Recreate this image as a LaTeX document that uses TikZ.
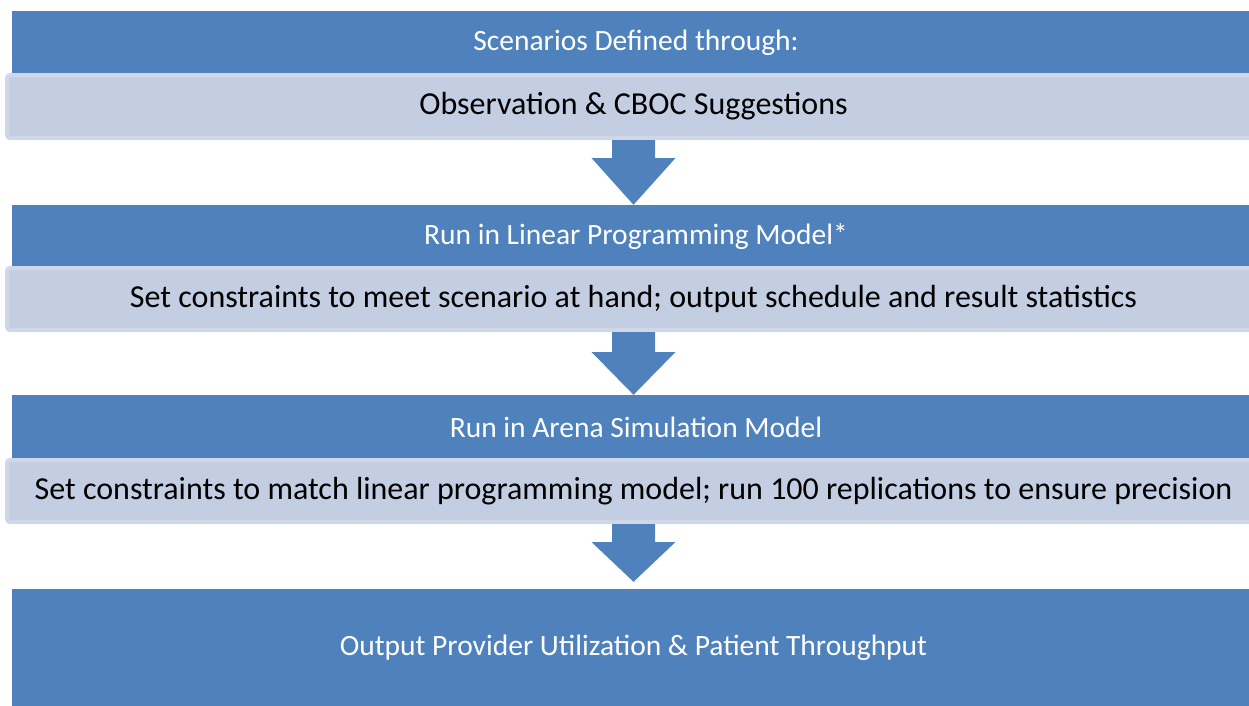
\documentclass[tikz,border=0pt]{standalone}
\usepackage{fontspec}
\setmainfont{Carlito}
\usepackage{tikz}
\usetikzlibrary{calc}

\definecolor{stepblue}{HTML}{4F81BD}
\definecolor{stepfill}{HTML}{C3CEE2}
\definecolor{stepline}{HTML}{CFD8E9}

\begin{document}
\begin{tikzpicture}[x=1pt,y=-1pt,
          head/.style={fill=stepblue,text=white,inner sep=0,minimum width=1248pt,
            font=\fontsize{29.5}{35}\selectfont},
          detail/.style={fill=stepfill,draw=stepline,line width=4pt,rounded corners=3pt,
            inner sep=0,minimum width=1253pt,font=\fontsize{32}{38}\selectfont},
          blockarrow/.style={fill=stepblue}
        ]
        \useasboundingbox (0,0) rectangle (1249,705);
        \clip (0,0) rectangle (1249,705);

        %headers
        \node[head,minimum height=64pt] (b1) at (636,43) {Scenarios Defined through:};
        \node[head,minimum height=63pt] (b2) at (636,236.5) {Run in Linear Programming Model*};
        \node[head,minimum height=65pt] (b3) at (636,427.5) {Run in Arena Simulation Model};
        \node[head,minimum height=120pt] (b4) at (636,649) {};
        \node[text=white,font=\fontsize{29.5}{35}\selectfont] (out) at (633.5,648)
          {Output Provider Utilization \& Patient Throughput};

        %details
        \node[detail,minimum height=63pt] (l1) at (633.5,106.5) {Observation \& CBOC Suggestions};
        \node[detail,minimum height=62pt] (l2) at (633.5,299)
          {Set constraints to meet scenario at hand; output schedule and result statistics};
        \node[detail,minimum height=62pt] (l3) at (633.5,491)
          {Set constraints to match linear programming model; run 100 replications to ensure precision};

        %arrows
        \fill[blockarrow] ($(l1.south)+(-21.5,0)$) -- ++(0,18) -- ++(-20.5,0)
          -- ($(b2.north -| l1.south)$) -- ($(l1.south)+(42,18)$) -- ++(-20.5,0) -- ++(0,-18) -- cycle;
        \fill[blockarrow] ($(l2.south)+(-21.5,0)$) -- ++(0,20) -- ++(-20.5,0)
          -- ($(b3.north -| l2.south)$) -- ($(l2.south)+(42,20)$) -- ++(-20.5,0) -- ++(0,-20) -- cycle;
        \coordinate (t3) at ($(b4.north -| l3.south)+(0,-7)$);
        \fill[blockarrow] ($(l3.south)+(-21.5,0)$) -- ++(0,18) -- ++(-20.5,0)
          -- (t3) -- ($(l3.south)+(42,18)$) -- ++(-20.5,0) -- ++(0,-18) -- cycle;
    \end{tikzpicture}
\end{document}
